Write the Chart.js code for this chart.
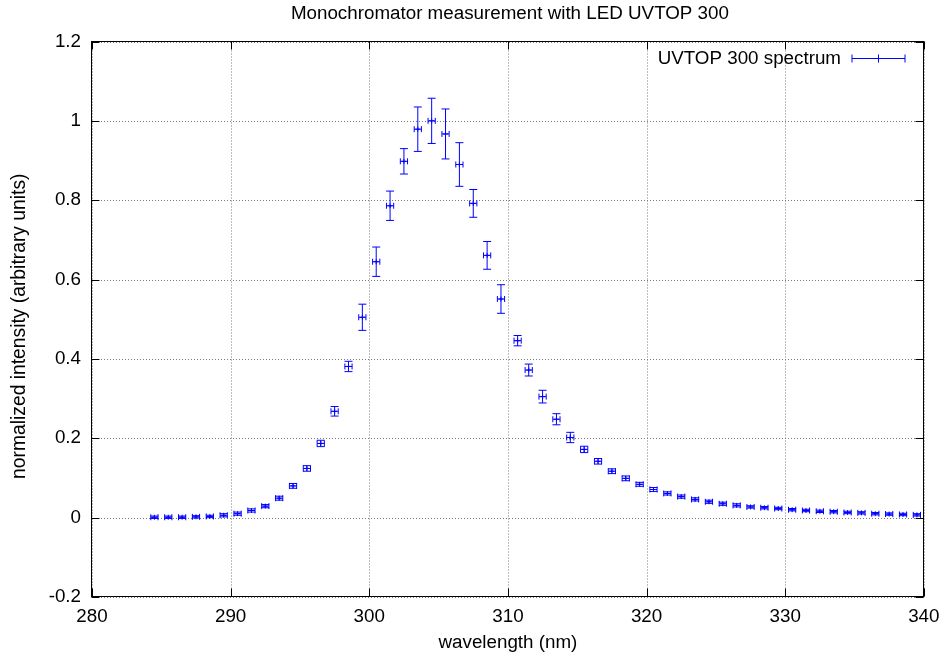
<!DOCTYPE html>
<html>
<head>
<meta charset="utf-8">
<script src="https://cdn.jsdelivr.net/npm/chart.js@4.4.1/dist/chart.umd.min.js"></script>
<style>
  html, body { margin: 0; padding: 0; background: #ffffff; }
  canvas { display: block; }
</style>
</head>
<body>
<canvas id="c" width="948" height="656"></canvas>
<script>
// ---- data ----
const chartTitle = 'Monochromator measurement with LED UVTOP 300';
const seriesLabel = 'UVTOP 300 spectrum';
const xAxisTitle = 'wavelength (nm)';
const yAxisTitle = 'normalized intensity (arbitrary units)';

const wavelengths = [
  284.5, 285.5, 286.5, 287.5, 288.5, 289.5, 290.5, 291.5, 292.5, 293.5,
  294.5, 295.5, 296.5, 297.5, 298.5, 299.5, 300.5, 301.5, 302.5, 303.5,
  304.5, 305.5, 306.5, 307.5, 308.5, 309.5, 310.7, 311.5, 312.5, 313.5,
  314.5, 315.5, 316.5, 317.5, 318.5, 319.5, 320.5, 321.5, 322.5, 323.5,
  324.5, 325.5, 326.5, 327.5, 328.5, 329.5, 330.5, 331.5, 332.5, 333.5,
  334.5, 335.5, 336.5, 337.5, 338.5, 339.5
];
const intensities = [
  0.001, 0.001, 0.001, 0.002, 0.003, 0.006, 0.010, 0.018, 0.029, 0.049,
  0.080, 0.124, 0.187, 0.268, 0.381, 0.505, 0.645, 0.786, 0.898, 0.979,
  1.000, 0.967, 0.890, 0.792, 0.661, 0.551, 0.446, 0.372, 0.305, 0.248,
  0.202, 0.172, 0.142, 0.117, 0.099, 0.084, 0.071, 0.061, 0.053, 0.046,
  0.040, 0.035, 0.031, 0.027, 0.025, 0.023, 0.020, 0.018, 0.016, 0.015,
  0.013, 0.012, 0.010, 0.009, 0.008, 0.007
];
const intensityErrors = [
  0.003, 0.003, 0.003, 0.003, 0.003, 0.004, 0.004, 0.004, 0.004, 0.005,
  0.006, 0.007, 0.008, 0.012, 0.013, 0.033, 0.037, 0.037, 0.032, 0.056,
  0.057, 0.063, 0.055, 0.035, 0.035, 0.036, 0.013, 0.015, 0.016, 0.014,
  0.013, 0.008, 0.007, 0.006, 0.006, 0.005, 0.005, 0.004, 0.004, 0.004,
  0.004, 0.004, 0.004, 0.003, 0.003, 0.003, 0.003, 0.003, 0.003, 0.003,
  0.003, 0.003, 0.003, 0.003, 0.003, 0.003
];
const wavelengthError = 0.26;

const xTickValues = [280, 290, 300, 310, 320, 330, 340];
const xTickLabels = ['280', '290', '300', '310', '320', '330', '340'];
const yTickValues = [-0.2, 0, 0.2, 0.4, 0.6, 0.8, 1, 1.2];
const yTickLabels = ['-0.2', '0', '0.2', '0.4', '0.6', '0.8', '1', '1.2'];

// ---- style ----
const FONT_FAMILY = '"Liberation Sans", Arial, Helvetica, sans-serif';
const FONT_SIZE = 18.8;
const BLUE = '#0000ff';

const points = wavelengths.map((w, i) => ({ x: w, y: intensities[i] }));

function snap(v) { return Math.round(v) + 0.5; }

const gnuplotDecor = {
  id: 'gnuplotDecor',
  beforeDatasetsDraw(chart) {
    const { ctx, chartArea: a, scales: { x, y } } = chart;
    ctx.save();
    ctx.strokeStyle = '#7a7a7a';
    ctx.lineWidth = 1;
    ctx.setLineDash([1, 2]);
    xTickValues.forEach(v => {
      const px = snap(x.getPixelForValue(v));
      ctx.beginPath(); ctx.moveTo(px, a.top); ctx.lineTo(px, a.bottom); ctx.stroke();
    });
    yTickValues.forEach(v => {
      const py = snap(y.getPixelForValue(v));
      ctx.beginPath(); ctx.moveTo(a.left, py); ctx.lineTo(a.right, py); ctx.stroke();
    });
    ctx.restore();
  },
  afterDatasetsDraw(chart) {
    const { ctx, chartArea: a, scales: { x, y } } = chart;
    ctx.save();
    // error bars (xyerrorbars)
    ctx.strokeStyle = BLUE;
    ctx.lineWidth = 1;
    ctx.setLineDash([]);
    const capY = 4, capX = 3;
    wavelengths.forEach((w, i) => {
      const v = intensities[i], e = intensityErrors[i];
      const px = x.getPixelForValue(w);
      const py = y.getPixelForValue(v);
      const yTop = y.getPixelForValue(v + e);
      const yBot = y.getPixelForValue(v - e);
      const xL = x.getPixelForValue(w - wavelengthError);
      const xR = x.getPixelForValue(w + wavelengthError);
      ctx.beginPath();
      ctx.moveTo(px, yTop); ctx.lineTo(px, yBot);
      ctx.moveTo(px - capY, yTop); ctx.lineTo(px + capY, yTop);
      ctx.moveTo(px - capY, yBot); ctx.lineTo(px + capY, yBot);
      ctx.moveTo(xL, py); ctx.lineTo(xR, py);
      ctx.moveTo(xL, py - capX); ctx.lineTo(xL, py + capX);
      ctx.moveTo(xR, py - capX); ctx.lineTo(xR, py + capX);
      ctx.stroke();
    });

    // border box
    ctx.strokeStyle = '#000000';
    ctx.lineWidth = 1;
    const L = snap(a.left) - 1, R = snap(a.right) - 1, T = snap(a.top) - 1, B = snap(a.bottom) - 1;
    ctx.strokeRect(L, T, R - L, B - T);

    // inward tick marks on all four sides
    const tl = 8;
    ctx.beginPath();
    xTickValues.forEach(v => {
      const px = snap(x.getPixelForValue(v));
      ctx.moveTo(px, B); ctx.lineTo(px, B - tl);
      ctx.moveTo(px, T); ctx.lineTo(px, T + tl);
    });
    yTickValues.forEach(v => {
      const py = snap(y.getPixelForValue(v));
      ctx.moveTo(L, py); ctx.lineTo(L + tl, py);
      ctx.moveTo(R, py); ctx.lineTo(R - tl, py);
    });
    ctx.stroke();

    // key (legend) in top-right corner
    const ky = 58.5;
    const sampleL = 852, sampleR = 905;
    ctx.fillStyle = '#000000';
    ctx.font = FONT_SIZE + 'px ' + FONT_FAMILY;
    ctx.textAlign = 'right';
    ctx.textBaseline = 'middle';
    ctx.fillText(chart.data.datasets[0].label, 841, ky);
    ctx.strokeStyle = BLUE;
    ctx.beginPath();
    ctx.moveTo(sampleL, ky); ctx.lineTo(sampleR, ky);
    ctx.moveTo(sampleL, ky - 4); ctx.lineTo(sampleL, ky + 4);
    ctx.moveTo(sampleR, ky - 4); ctx.lineTo(sampleR, ky + 4);
    const mid = (sampleL + sampleR) / 2;
    ctx.moveTo(mid, ky - 4); ctx.lineTo(mid, ky + 4);
    ctx.stroke();

    // title, centred over the plot area
    ctx.fillStyle = '#000000';
    ctx.textAlign = 'center';
    ctx.textBaseline = 'middle';
    ctx.font = FONT_SIZE + 'px ' + FONT_FAMILY;
    ctx.fillText(chartTitle, (a.left + a.right) / 2 + 2, 13.5);

    // y axis title, rotated
    ctx.save();
    ctx.translate(19.5, (a.top + a.bottom) / 2 + 7);
    ctx.rotate(-Math.PI / 2);
    ctx.font = '19.3px ' + FONT_FAMILY;
    ctx.fillText(yAxisTitle, 0, 0);
    ctx.restore();

    ctx.restore();
  }
};

const font = { family: FONT_FAMILY, size: FONT_SIZE, weight: 'normal' };

new Chart(document.getElementById('c'), {
  type: 'scatter',
  data: {
    datasets: [{
      label: seriesLabel,
      data: points,
      showLine: false,
      pointStyle: 'cross',
      pointRadius: 2.5,
      pointHoverRadius: 2.5,
      borderColor: BLUE,
      backgroundColor: BLUE,
      borderWidth: 1
    }]
  },
  options: {
    responsive: false,
    animation: false,
    devicePixelRatio: 1,
    layout: { padding: { left: 0, right: 20, top: 41.5, bottom: 0 } },
    plugins: {
      legend: { display: false },
      tooltip: { enabled: false },
      title: { display: false }
    },
    scales: {
      x: {
        type: 'linear',
        min: 280, max: 340,
        afterFit(scale) { scale.height = 59; },
        afterBuildTicks(scale) { scale.ticks = xTickValues.map(v => ({ value: v })); },
        ticks: {
          color: '#000000',
          font: font,
          padding: 8.5,
          maxRotation: 0,
          autoSkip: false,
          callback: (v) => xTickLabels[xTickValues.indexOf(v)]
        },
        grid: { display: false, drawTicks: false },
        border: { display: false },
        title: {
          display: true,
          text: xAxisTitle,
          color: '#000000',
          font: font,
          padding: { top: 0, bottom: 1.7 }
        }
      },
      y: {
        type: 'linear',
        min: -0.2, max: 1.2,
        afterFit(scale) { scale.width = 92; },
        afterBuildTicks(scale) { scale.ticks = yTickValues.map(v => ({ value: v })); },
        ticks: {
          color: '#000000',
          font: font,
          padding: 11,
          autoSkip: false,
          callback: (v) => yTickLabels[yTickValues.indexOf(v)]
        },
        grid: { display: false, drawTicks: false },
        border: { display: false },
        title: { display: false }
      }
    }
  },
  plugins: [gnuplotDecor]
});
</script>
</body>
</html>
